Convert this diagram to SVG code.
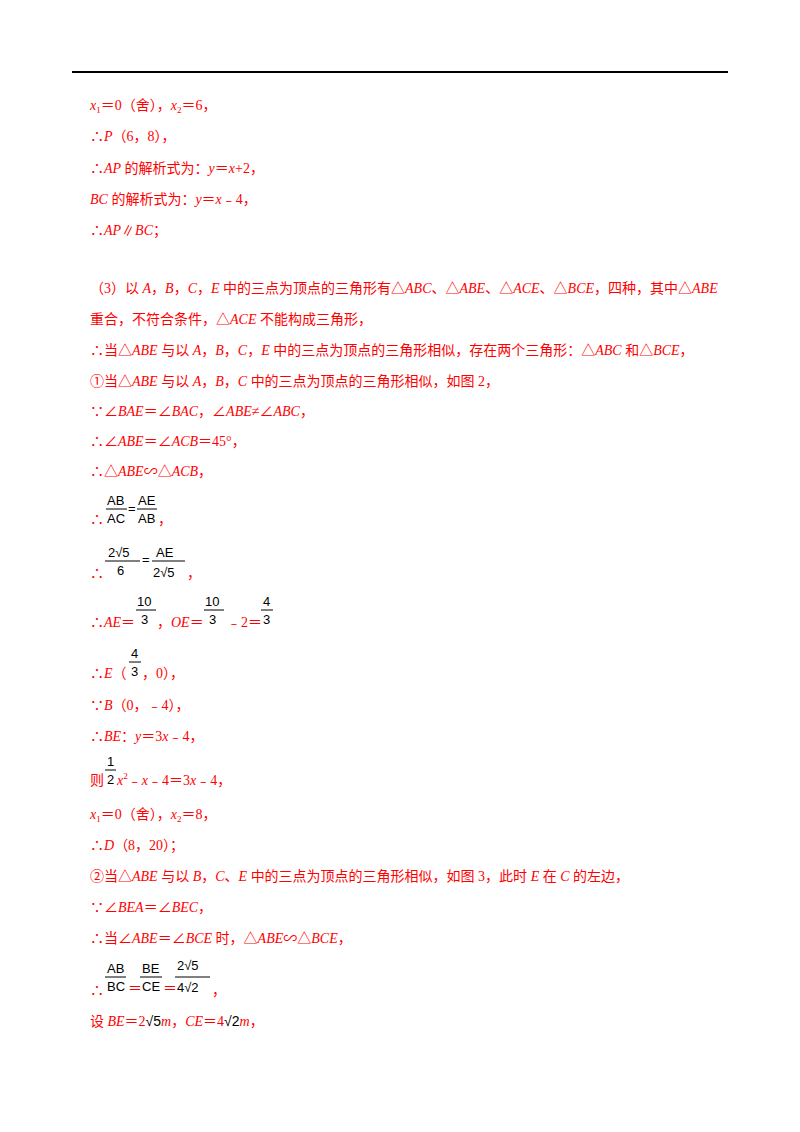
<svg xmlns="http://www.w3.org/2000/svg" width="800" height="1132" viewBox="0 0 800 1132">
<style>
text{font-family:"Liberation Serif","Noto Sans CJK SC",serif;font-size:14px;fill:#ff0000}
.i{font-style:italic}
.k{fill:#000;font-family:"Liberation Sans",Arial,sans-serif;font-size:13px}
.l{stroke:#000;stroke-width:1}
</style>
<rect width="800" height="1132" fill="#fff"/>
<line x1="72" y1="72" x2="728" y2="72" stroke="#000" stroke-width="2"/>
<text x="90" y="110"><tspan class="i">x</tspan><tspan font-size="9" dy="3">1</tspan><tspan dy="-3">＝0（舍），</tspan><tspan class="i">x</tspan><tspan font-size="9" dy="3">2</tspan><tspan dy="-3">＝6，</tspan></text>
<text x="90" y="141">∴<tspan class="i">P</tspan>（6，8），</text>
<text x="90" y="173">∴<tspan class="i">AP</tspan> 的解析式为：<tspan class="i">y</tspan>＝<tspan class="i">x</tspan>+2，</text>
<text x="90" y="204"><tspan class="i">BC</tspan> 的解析式为：<tspan class="i">y</tspan>＝<tspan class="i">x</tspan>﹣4，</text>
<text x="90" y="235">∴<tspan class="i">AP</tspan>∥<tspan class="i">BC</tspan>；</text>
<text x="90" y="293">（3）以 <tspan class="i">A</tspan>，<tspan class="i">B</tspan>，<tspan class="i">C</tspan>，<tspan class="i">E</tspan> 中的三点为顶点的三角形有△<tspan class="i">ABC</tspan>、△<tspan class="i">ABE</tspan>、△<tspan class="i">ACE</tspan>、△<tspan class="i">BCE</tspan>，四种，其中△<tspan class="i">ABE</tspan></text>
<text x="90" y="324">重合，不符合条件，△<tspan class="i">ACE</tspan> 不能构成三角形，</text>
<text x="90" y="355">∴当△<tspan class="i">ABE</tspan> 与以 <tspan class="i">A</tspan>，<tspan class="i">B</tspan>，<tspan class="i">C</tspan>，<tspan class="i">E</tspan> 中的三点为顶点的三角形相似，存在两个三角形：△<tspan class="i">ABC</tspan> 和△<tspan class="i">BCE</tspan>，</text>
<text x="90" y="386">①当△<tspan class="i">ABE</tspan> 与以 <tspan class="i">A</tspan>，<tspan class="i">B</tspan>，<tspan class="i">C</tspan> 中的三点为顶点的三角形相似，如图 2，</text>
<text x="90" y="416">∵∠<tspan class="i">BAE</tspan>＝∠<tspan class="i">BAC</tspan>，∠<tspan class="i">ABE</tspan>≠∠<tspan class="i">ABC</tspan>，</text>
<text x="90" y="446">∴∠<tspan class="i">ABE</tspan>＝∠<tspan class="i">ACB</tspan>＝45°，</text>
<text x="90" y="476">∴△<tspan class="i">ABE</tspan>∽△<tspan class="i">ACB</tspan>，</text>
<!-- frac 1 -->
<text x="90" y="524">∴</text>
<text class="k" x="107" y="505">AB</text><line class="l" x1="106" y1="509" x2="127" y2="509"/><text class="k" x="107" y="523">AC</text>
<text class="k" x="128" y="513">=</text>
<text class="k" x="138" y="505">AE</text><line class="l" x1="137" y1="509" x2="157" y2="509"/><text class="k" x="138" y="523">AB</text>
<text x="158" y="524">，</text>
<!-- frac 2 -->
<text x="90" y="578">∴</text>
<text class="k" x="108" y="557">2√5</text><line class="l" x1="105" y1="561" x2="140" y2="561"/><text class="k" x="117" y="575">6</text>
<text class="k" x="142" y="564">=</text>
<text class="k" x="156" y="557">AE</text><line class="l" x1="152" y1="561" x2="185" y2="561"/><text class="k" x="153" y="577">2√5</text>
<text x="187" y="578">，</text>
<!-- AE line -->
<text x="90" y="627">∴<tspan class="i">AE</tspan>＝</text>
<text class="k" x="137" y="606">10</text><line class="l" x1="136" y1="610" x2="156" y2="610"/><text class="k" x="141" y="624">3</text>
<text x="157" y="627">，<tspan class="i">OE</tspan>＝</text>
<text class="k" x="205" y="606">10</text><line class="l" x1="204" y1="610" x2="224" y2="610"/><text class="k" x="209" y="624">3</text>
<text x="227" y="627">﹣2＝</text>
<text class="k" x="263" y="606">4</text><line class="l" x1="261" y1="610" x2="273" y2="610"/><text class="k" x="263" y="624">3</text>
<text x="90" y="678">∴<tspan class="i">E</tspan>（</text>
<text class="k" x="131" y="658">4</text><line class="l" x1="129" y1="662" x2="141" y2="662"/><text class="k" x="131" y="676">3</text>
<text x="142" y="678">，0），</text>
<text x="90" y="710">∵<tspan class="i">B</tspan>（0，﹣4），</text>
<text x="90" y="741">∴<tspan class="i">BE</tspan>：<tspan class="i">y</tspan>＝3<tspan class="i">x</tspan>﹣4，</text>
<text x="90" y="785">则</text>
<text class="k" x="107" y="766">1</text><line class="l" x1="105" y1="770" x2="116" y2="770"/><text class="k" x="107" y="784">2</text>
<text x="117" y="785"><tspan class="i">x</tspan><tspan font-size="9" dy="-6">2</tspan><tspan dy="6">﹣</tspan><tspan class="i">x</tspan>﹣4＝3<tspan class="i">x</tspan>﹣4，</text>
<text x="90" y="819"><tspan class="i">x</tspan><tspan font-size="9" dy="3">1</tspan><tspan dy="-3">＝0（舍），</tspan><tspan class="i">x</tspan><tspan font-size="9" dy="3">2</tspan><tspan dy="-3">＝8，</tspan></text>
<text x="90" y="850">∴<tspan class="i">D</tspan>（8，20）；</text>
<text x="90" y="881">②当△<tspan class="i">ABE</tspan> 与以 <tspan class="i">B</tspan>，<tspan class="i">C</tspan>、<tspan class="i">E</tspan> 中的三点为顶点的三角形相似，如图 3，此时 <tspan class="i">E</tspan> 在 <tspan class="i">C</tspan> 的左边，</text>
<text x="90" y="912">∵∠<tspan class="i">BEA</tspan>＝∠<tspan class="i">BEC</tspan>，</text>
<text x="90" y="943">∴当∠<tspan class="i">ABE</tspan>＝∠<tspan class="i">BCE</tspan> 时，△<tspan class="i">ABE</tspan>∽△<tspan class="i">BCE</tspan>，</text>
<!-- frac 3 -->
<text x="90" y="995">∴</text>
<text class="k" x="107" y="973">AB</text><line class="l" x1="105" y1="977" x2="126" y2="977"/><text class="k" x="107" y="991">BC</text>
<text x="128" y="993">＝</text>
<text class="k" x="142" y="973">BE</text><line class="l" x1="140" y1="977" x2="162" y2="977"/><text class="k" x="142" y="991">CE</text>
<text x="163" y="993">＝</text>
<text class="k" x="177" y="970">2√5</text><line class="l" x1="175" y1="977" x2="210" y2="977"/><text class="k" x="177" y="992">4√2</text>
<text x="212" y="995">，</text>
<text x="90" y="1026">设 <tspan class="i">BE</tspan>＝2<tspan fill="#000" font-family="Liberation Sans">√5</tspan><tspan class="i">m</tspan>，<tspan class="i">CE</tspan>＝4<tspan fill="#000" font-family="Liberation Sans">√2</tspan><tspan class="i">m</tspan>，</text>
</svg>
